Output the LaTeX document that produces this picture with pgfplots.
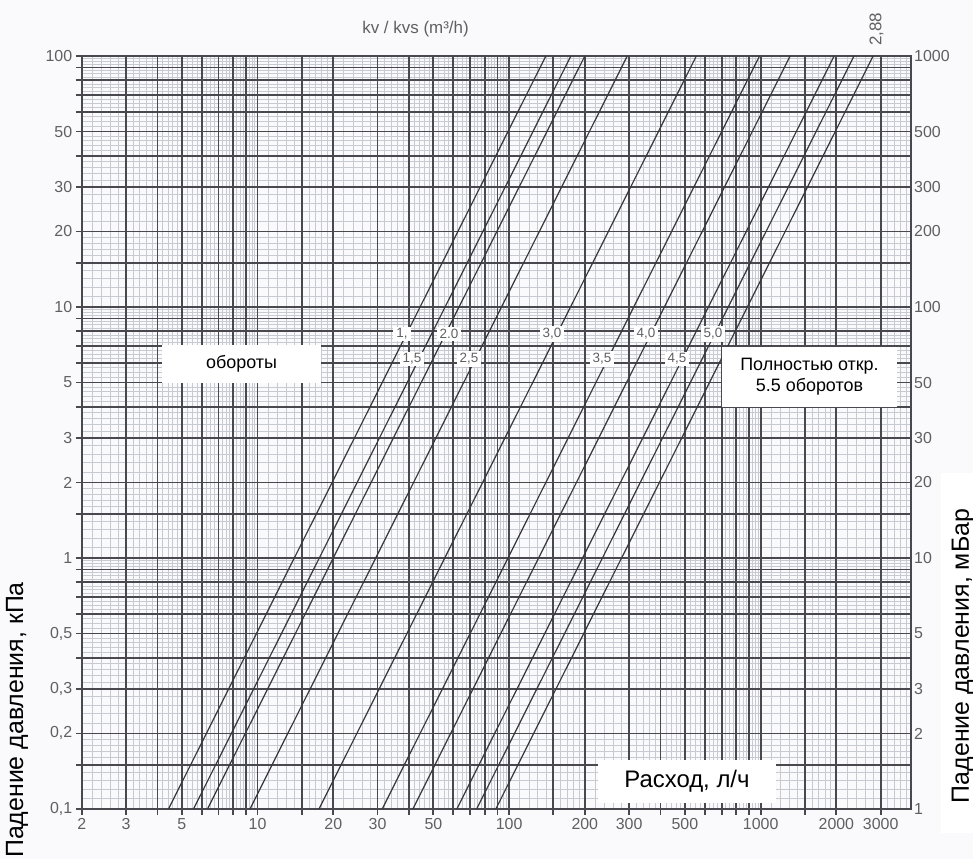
\documentclass[border=0pt]{standalone}
\usepackage{fontspec}
\setmainfont{Liberation Sans}
\usepackage{pgfplots}
\pgfplotsset{compat=1.18}
\definecolor{pagebg}{RGB}{250,250,252}
\definecolor{gridmaj}{RGB}{72,72,78}
\definecolor{gridmin}{RGB}{200,202,210}
\definecolor{curve}{RGB}{55,55,60}
\definecolor{ticklab}{RGB}{95,95,100}
\pgfplotsset{chartbox/.style={at={(81.7bp,50bp)}, anchor=south west, scale only axis,
  width=829bp, height=753bp, xmin=2, xmax=3950}}
\begin{document}
\begin{tikzpicture}[x=1bp,y=1bp]
\useasboundingbox (0,0) rectangle (973,859);
\fill[pagebg] (0,0) rectangle (973,859);
% fine grid
\begin{axis}[xmode=log, ymode=log, chartbox, ymin=0.1, ymax=100,
  xtick={2.2,2.4,2.6,2.8,3.2,3.4,3.6,3.8,4.2,4.4,4.6,4.8,5.25,5.5,5.75,6.25,6.5,6.75,7.25,7.5,7.75,8.25,8.5,8.75,9.25,9.5,9.75,
    11,12,13,14,16,17,18,19,22,24,26,28,32,34,36,38,42,44,46,48,52.5,55,57.5,62.5,65,67.5,72.5,75,77.5,82.5,85,87.5,92.5,95,97.5,
    110,120,130,140,160,170,180,190,220,240,260,280,320,340,360,380,420,440,460,480,525,550,575,625,650,675,725,750,775,825,850,875,925,950,975,
    1100,1200,1300,1400,1600,1700,1800,1900,2200,2400,2600,2800,3200,3400,3600,3800},
  ytick={0.11,0.12,0.13,0.14,0.16,0.17,0.18,0.19,0.22,0.24,0.26,0.28,0.32,0.34,0.36,0.38,0.42,0.44,0.46,0.48,0.525,0.55,0.575,0.625,0.65,0.675,0.725,0.75,0.775,0.825,0.85,0.875,0.925,0.95,0.975,
    1.1,1.2,1.3,1.4,1.6,1.7,1.8,1.9,2.2,2.4,2.6,2.8,3.2,3.4,3.6,3.8,4.2,4.4,4.6,4.8,5.25,5.5,5.75,6.25,6.5,6.75,7.25,7.5,7.75,8.25,8.5,8.75,9.25,9.5,9.75,
    11,12,13,14,16,17,18,19,22,24,26,28,32,34,36,38,42,44,46,48,52.5,55,57.5,62.5,65,67.5,72.5,75,77.5,82.5,85,87.5,92.5,95,97.5},
  xticklabels={}, yticklabels={},
  major tick length=0pt, minor tick length=0pt,
  axis line style={draw=none},
  xmajorgrids, ymajorgrids,
  major grid style={draw=gridmin, line width=0.55bp},
]
\addplot[draw=none] coordinates {(10,1)};
\end{axis}
% main axis
\begin{axis}[xmode=log, ymode=log, chartbox, ymin=0.1, ymax=100,
  xtick={2,3,4,5,6,7,8,9,10,15,20,30,40,50,60,70,80,90,100,150,200,300,400,500,600,700,800,900,1000,1500,2000,3000},
  xticklabels={2,3,,5,,,,,10,,20,30,,50,,,,,100,,200,300,,500,,,,,1000,,2000,3000},
  ytick={0.1,0.15,0.2,0.3,0.4,0.5,0.6,0.7,0.8,0.9,1,1.5,2,3,4,5,6,7,8,9,10,15,20,30,40,50,60,70,80,90,100},
  yticklabels={{0,1},,{0,2},{0,3},,{0,5},,,,,1,,2,3,,5,,,,,10,,20,30,,50,,,,,100},
  xmajorgrids, ymajorgrids,
  major grid style={draw=gridmaj, line width=1.8bp},
  axis line style={draw=gridmaj, line width=1.8bp},
  tick pos=left, tick align=outside,
  major tick length=6bp, minor tick length=0pt,
  major tick style={draw=gridmaj, line width=1.8bp},
  tick label style={font=\fontsize{16}{18}\selectfont, text=ticklab},
  /pgf/number format/assume math mode=true,
]
\addplot[curve, line width=1.2bp] coordinates {(4.427,0.1) (140,100)};
\addplot[curve, line width=1.2bp] coordinates {(5.566,0.1) (176,100)};
\addplot[curve, line width=1.2bp] coordinates {(6.325,0.1) (200,100)};
\addplot[curve, line width=1.2bp] coordinates {(9.329,0.1) (295,100)};
\addplot[curve, line width=1.2bp] coordinates {(17.55,0.1) (555,100)};
\addplot[curve, line width=1.2bp] coordinates {(31.31,0.1) (990,100)};
\addplot[curve, line width=1.2bp] coordinates {(41.43,0.1) (1310,100)};
\addplot[curve, line width=1.2bp] coordinates {(61.98,0.1) (1960,100)};
\addplot[curve, line width=1.2bp] coordinates {(74.31,0.1) (2350,100)};
\addplot[curve, line width=1.2bp] coordinates {(88.54,0.1) (2800,100)};
\end{axis}
% right axis (mBar)
\begin{axis}[xmode=log, ymode=log, chartbox, ymin=1, ymax=1000,
  xtick=\empty,
  ytick={1,2,3,5,10,20,30,50,100,200,300,500,1000},
  yticklabels={1,2,3,5,10,20,30,50,100,200,300,500,1000},
  ytick pos=right, yticklabel pos=right,
  major tick length=0pt,
  axis line style={draw=none},
  tick label style={font=\fontsize{16}{18}\selectfont, text=ticklab},
]
\addplot[draw=none] coordinates {(10,10)};
\end{axis}
% white cover over right tick label area (as in original)
\fill[white] (941,26) rectangle (973,386);
% line labels
\tikzset{lab/.style={fill=white, text=ticklab, font=\fontsize{13.5}{15}\selectfont, inner xsep=3bp, inner ysep=2bp}}
\node[lab] at (402,525) {1,};
\node[lab] at (449,525) {2.0};
\node[lab] at (552,525) {3,0};
\node[lab] at (646,525) {4,0};
\node[lab] at (713,525) {5,0};
\node[lab] at (412,500) {1,5};
\node[lab] at (469,500) {2,5};
\node[lab] at (602,500) {3,5};
\node[lab] at (677,500) {4,5};
% text boxes
\fill[white] (162,476) rectangle (321,514);
\node[font=\fontsize{18}{20}\selectfont] at (241.5,495) {обороты};
\fill[white] (722,452) rectangle (897,512);
\node[font=\fontsize{18}{21}\selectfont, align=center] at (809.5,482) {Полностью откр.\\5.5 оборотов};
\fill[white] (598,56) rectangle (776,99);
\node[font=\fontsize{24}{26}\selectfont] at (687,77.5) {Расход, л/ч};
% titles
\node[font=\fontsize{17}{19}\selectfont, text=ticklab] at (415.5,829.5) {kv / kvs (m³/h)};
\node[font=\fontsize{17}{19}\selectfont, text=ticklab, rotate=90] at (876.5,829.5) {2,88};
\node[font=\fontsize{25}{28}\selectfont, rotate=90] at (17,139) {Падение давления, кПа};
\node[font=\fontsize{25}{28}\selectfont, rotate=90] at (963,203) {Падение давления, мБар};
\end{tikzpicture}
\end{document}
